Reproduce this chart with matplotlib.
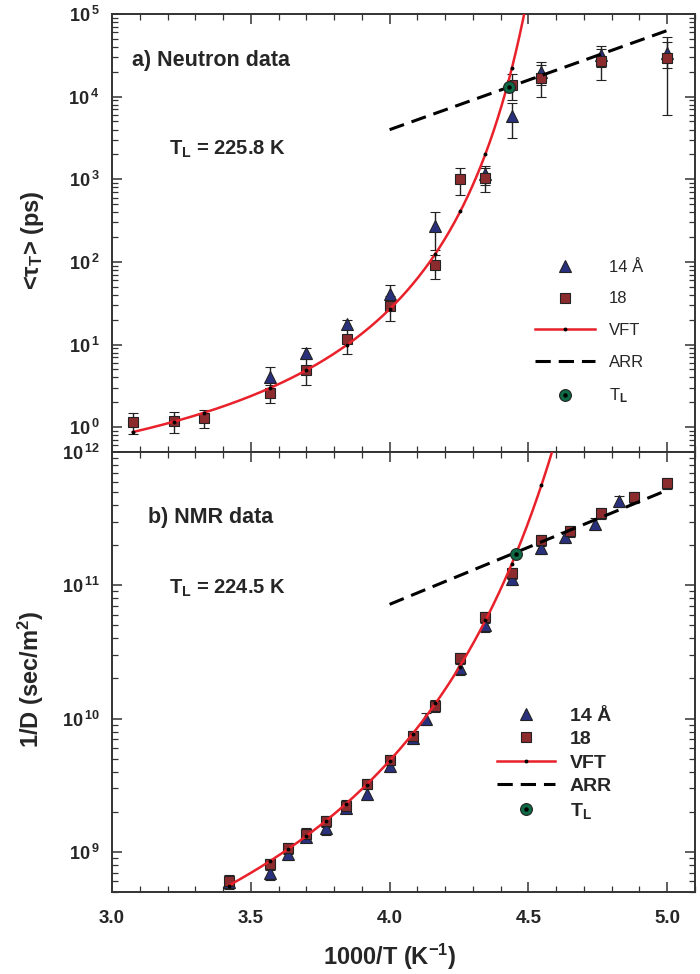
import numpy as np
import matplotlib
matplotlib.use("Agg")
import matplotlib.pyplot as plt
from matplotlib.lines import Line2D
from matplotlib.ticker import FuncFormatter, LogLocator, MultipleLocator, NullFormatter

plt.rcParams["font.family"] = ["Liberation Sans", "DejaVu Sans"]
plt.rcParams["font.weight"] = "bold"
plt.rcParams["mathtext.fontset"] = "custom"
plt.rcParams["mathtext.rm"] = "Liberation Sans:bold"
plt.rcParams["mathtext.it"] = "Liberation Sans:bold"
plt.rcParams["mathtext.bf"] = "Liberation Sans:bold"
plt.rcParams["mathtext.sf"] = "Liberation Sans:bold"

# ---------------- a) neutron relaxation times <tau_T> (ps) ----------------
n14_x = [3.57, 3.70, 3.845, 4.0, 4.165, 4.345, 4.44, 4.545, 4.76, 5.0]
n14_y = [4.0, 7.9, 17.6, 41, 270, 1150, 5800, 20000, 32000, 34000]
n14_err = [1.3, 1.1, 2.0, 11, 130, 300, 2600, 6000, 9000, 12000]

n18_x = [3.075, 3.223, 3.33, 3.57, 3.70, 3.845, 4.0, 4.165, 4.255, 4.345,
         4.44, 4.545, 4.76, 5.0]
n18_y = [1.15, 1.18, 1.3, 2.6, 4.9, 11.6, 29, 91, 1000, 1030,
         14000, 17000, 27000, 29000]
n18_err = [0.33, 0.33, 0.32, 0.65, 1.7, 4.0, 10, 29, 350, 330,
           5000, 7000, 11000, 23000]

# VFT: log10(tau) = A + B / (T - T0), T = 1000/x
vft_n = dict(A=-0.95, B=107.0, T0=205.0)
# Arrhenius: log10(tau) = c0 + c1 * (x - 4)
arr_n = dict(c0=3.60, c1=1.20)
arr_n_range = (4.0, 5.0)
TL_n = 225.8
TL_n_y = 13000

# ---------------- b) NMR inverse diffusion 1/D (sec/m^2) ----------------
d14_x = [3.42, 3.568, 3.633, 3.70, 3.77, 3.842, 3.917, 4.0, 4.083, 4.13,
         4.252, 4.345, 4.44, 4.547, 4.63, 4.74, 4.825]
d14_y = [5.9e8, 6.9e8, 9.7e8, 1.3e9, 1.5e9, 2.15e9, 2.73e9, 4.4e9, 7.2e9,
         1.0e10, 2.38e10, 5.0e10, 1.12e11, 1.9e11, 2.3e11, 2.9e11, 4.3e11]
d14_err = [0.6e8, 0.7e8, 1.0e8, 1.2e8, 1.5e8, 2.0e8, 2.8e8, 4.5e8, 7.0e8,
           1.0e9, 2.4e9, 5.0e9, 1.1e10, 1.9e10, 2.3e10, 2.9e10, 4.0e10]

d18_x = [3.42, 3.568, 3.633, 3.70, 3.77, 3.842, 3.917, 4.0, 4.083, 4.165,
         4.252, 4.345, 4.44, 4.547, 4.65, 4.763, 4.88, 5.0]
d18_y = [6.05e8, 8.1e8, 1.07e9, 1.37e9, 1.71e9, 2.22e9, 3.24e9, 4.9e9, 7.4e9,
         1.25e10, 2.84e10, 5.75e10, 1.23e11, 2.18e11, 2.55e11, 3.5e11,
         4.6e11, 5.85e11]
d18_err = [0.6e8, 0.8e8, 1.0e8, 1.3e8, 1.6e8, 2.1e8, 3.0e8, 4.5e8, 7.0e8,
           1.2e9, 2.6e9, 5.5e9, 1.2e10, 2.1e10, 2.5e10, 3.3e10, 4.3e10,
           5.5e10]

vft_d = dict(A=7.324, B=152.0, T0=185.6)
arr_d = dict(c0=10.857, c1=0.857)
arr_d_range = (4.0, 5.0)
TL_d = 224.5
TL_d_y = 1.72e11

x_ticks = [3.0, 3.5, 4.0, 4.5, 5.0]

# ---------------- styling ----------------
C_TRI = "#29307c"
C_SQ = "#8c2b2e"
C_VFT = "#e8212b"
C_TL = "#0d6a45"
C_EDGE = "#222222"
C_TXT = "#262626"


def vft(x, p):
    T = 1000.0 / np.asarray(x, dtype=float)
    return 10 ** (p["A"] + p["B"] / (T - p["T0"]))


def arr(x, p):
    return 10 ** (p["c0"] + p["c1"] * (np.asarray(x, dtype=float) - 4.0))


def pow10(v, pos):
    e = int(round(np.log10(v)))
    return r"$\mathbf{10^{\,%d}}$" % e


fig = plt.figure(figsize=(7.0, 9.74), dpi=100)
W, H = 700.0, 974.0
left, right = 112 / W, 695 / W
y_top, y_mid, y_bot = 1 - 14 / H, 1 - 452 / H, 1 - 892 / H
ax1 = fig.add_axes([left, y_mid, right - left, y_top - y_mid])
ax2 = fig.add_axes([left, y_bot, right - left, y_mid - y_bot], sharex=ax1)


def draw_panel(ax, x14, y14, e14, x18, y18, e18, pv, pa, arange, TL, TL_y,
               x_start):
    ax.errorbar(x14, y14, yerr=e14, fmt="^", ms=8, mfc=C_TRI, mec=C_EDGE,
                mew=0.8, ecolor=C_EDGE, elinewidth=1.0, capsize=3.5,
                capthick=1.0, zorder=3)
    ax.errorbar(x18, y18, yerr=e18, fmt="s", ms=7.5, mfc=C_SQ, mec=C_EDGE,
                mew=0.8, ecolor=C_EDGE, elinewidth=1.0, capsize=3.5,
                capthick=1.0, zorder=3)
    xv = np.linspace(x_start, 4.62, 600)
    ax.plot(xv, vft(xv, pv), color=C_VFT, lw=1.8, zorder=4)
    xd = np.array([v for v in x18 if v >= x_start])
    ax.plot(xd, vft(xd, pv), ls="none", marker="o", ms=1.8, color="black",
            zorder=5)
    xa = np.linspace(arange[0], arange[1], 50)
    ax.plot(xa, arr(xa, pa), color="black", lw=2.2, dashes=(5, 2.6),
            zorder=4)
    ax.plot([1000.0 / TL], [TL_y], marker="o", ms=8.5, mfc=C_TL, mec=C_EDGE,
            mew=0.8, ls="none", zorder=6)
    ax.plot([1000.0 / TL], [TL_y], marker="o", ms=2.2, color="black",
            ls="none", zorder=7)
    ax.set_yscale("log")
    ax.yaxis.set_major_formatter(FuncFormatter(pow10))
    ax.yaxis.set_minor_locator(LogLocator(base=10, subs=np.arange(2, 10)))
    ax.yaxis.set_minor_formatter(NullFormatter())
    ax.xaxis.set_major_locator(MultipleLocator(0.5))
    ax.xaxis.set_minor_locator(MultipleLocator(0.1))
    ax.tick_params(which="both", direction="in", top=True, right=True,
                   colors="#333333", labelcolor=C_TXT)
    ax.tick_params(axis="y", labelsize=13, pad=9)
    ax.tick_params(axis="x", labelsize=13.5, pad=13)
    ax.tick_params(which="major", length=7.5, width=1.1)
    ax.tick_params(which="minor", length=4, width=0.9)
    for s in ax.spines.values():
        s.set_linewidth(1.4)
        s.set_color("#333333")


draw_panel(ax1, n14_x, n14_y, n14_err, n18_x, n18_y, n18_err, vft_n, arr_n,
           arr_n_range, TL_n, TL_n_y, 3.075)
draw_panel(ax2, d14_x, d14_y, d14_err, d18_x, d18_y, d18_err, vft_d, arr_d,
           arr_d_range, TL_d, TL_d_y, 3.42)

ax1.set_xlim(3.0, 5.1)
ax1.set_ylim(0.5, 1e5)
ax2.set_ylim(5e8, 1e12)
ax2.set_xticks(x_ticks)
ax2.set_xticklabels(["%.1f" % v for v in x_ticks])
ax1.tick_params(labelbottom=False)

ax1.text(0.035, 0.893, "a) Neutron data", transform=ax1.transAxes,
         fontsize=15.5, fontweight="bold", color=C_TXT, va="center")
ax1.text(0.097, 0.69, r"T$_\mathbf{L}$ = %.1f K" % TL_n,
         transform=ax1.transAxes, fontsize=14.5, fontweight="bold",
         color=C_TXT, va="center")
ax2.text(0.062, 0.85, "b) NMR data", transform=ax2.transAxes,
         fontsize=15.5, fontweight="bold", color=C_TXT, va="center")
ax2.text(0.097, 0.69, r"T$_\mathbf{L}$ = %.1f K" % TL_d,
         transform=ax2.transAxes, fontsize=14.5, fontweight="bold",
         color=C_TXT, va="center")

ax1.set_ylabel(r"<$\tau_{T}$> (ps)", fontsize=17, fontweight="bold",
               color=C_TXT)
ax2.set_ylabel(r"1/D (sec/m$^{2}$)", fontsize=17, fontweight="bold",
               color=C_TXT)
ax2.set_xlabel(r"1000/T (K$^{-1}$)", fontsize=17, fontweight="bold",
               color=C_TXT)
ax1.yaxis.set_label_coords(-0.113, 0.484)
ax2.yaxis.set_label_coords(-0.113, 0.484)
ax2.xaxis.set_label_coords(0.477, -0.113)


def legend_handles():
    h14 = Line2D([], [], ls="none", marker="^", ms=8, mfc=C_TRI, mec=C_EDGE,
                 mew=0.8)
    h18 = Line2D([], [], ls="none", marker="s", ms=7.5, mfc=C_SQ, mec=C_EDGE,
                 mew=0.8)
    hv = Line2D([], [], color=C_VFT, lw=1.8, marker="o", ms=1.8, mfc="black",
                mec="black")
    ha = Line2D([], [], color="black", lw=2.2, dashes=(5, 2.6))
    ht = (Line2D([], [], ls="none", marker="o", ms=8.5, mfc=C_TL, mec=C_EDGE,
                 mew=0.8),
          Line2D([], [], ls="none", marker="o", ms=2.2, color="black"))
    return [h14, h18, hv, ha, ht]


labels = ["14 Å", "18", "VFT", "ARR", r"T$_\mathbf{L}$"]
leg1 = ax1.legend(legend_handles(), labels, loc="upper left",
                  bbox_to_anchor=(0.712, 0.458), frameon=False, borderpad=0,
                  handlelength=3.6, handletextpad=0.8, labelspacing=1.0,
                  numpoints=1, prop={"size": 12, "weight": "normal"})
for t in leg1.get_texts():
    t.set_color(C_TXT)
leg2 = ax2.legend(legend_handles(), labels, loc="upper left",
                  bbox_to_anchor=(0.643, 0.442), frameon=False, borderpad=0,
                  handlelength=3.0, handletextpad=0.75, labelspacing=0.3,
                  numpoints=1, prop={"size": 14, "weight": "bold"})
for t in leg2.get_texts():
    t.set_color(C_TXT)

fig.savefig("out.png", dpi=100, facecolor="white")
